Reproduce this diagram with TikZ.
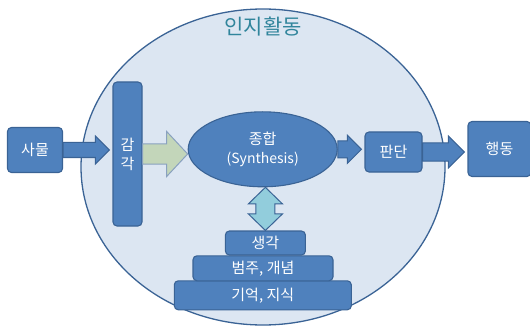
\documentclass[tikz,border=0pt]{standalone}
\usepackage{fontspec}
\setmainfont{Noto Sans CJK KR}
\usetikzlibrary{shapes.geometric,calc}
\definecolor{boxblue}{HTML}{4F81BD}
\definecolor{boxedge}{HTML}{3A6395}
\definecolor{cogfill}{HTML}{DCE6F2}
\definecolor{titleteal}{HTML}{31859C}
\definecolor{sensegreen}{HTML}{C3D6BA}
\definecolor{linkcyan}{HTML}{92CDDC}
\begin{document}
\begin{tikzpicture}[x=1pt,y=-1pt,
  box/.style={draw=boxedge,fill=boxblue,line width=1.1pt,rounded corners=4pt,
    text=white,inner sep=0pt,align=center,font=\fontsize{15}{19}\selectfont},
  fatarrow/.style args={#1/#2/#3}{to path={let \p1=(\tikztostart),\p2=(\tikztotarget) in
    (\x1,\y1+#1pt) -- (\x2-#3pt,\y1+#1pt) -- (\x2-#3pt,\y1+#2pt) -- (\x2,\y1)
    -- (\x2-#3pt,\y1-#2pt) -- (\x2-#3pt,\y1-#1pt) -- (\x1,\y1-#1pt) -- cycle}},
  dblarrow/.style args={#1/#2/#3}{to path={let \p1=(\tikztostart),\p2=(\tikztotarget) in
    (\x2,\y1) -- (\x2+#2pt,\y1-#3pt) -- (\x2+#1pt,\y1-#3pt) -- (\x2+#1pt,\y2+#3pt)
    -- (\x2+#2pt,\y2+#3pt) -- (\x2,\y2) -- (\x2-#2pt,\y2+#3pt) -- (\x2-#1pt,\y2+#3pt)
    -- (\x2-#1pt,\y1-#3pt) -- (\x2-#2pt,\y1-#3pt) -- cycle}},
  link/.style={draw=boxedge,line width=1pt,line join=miter}]
\useasboundingbox (0,0) rectangle (530,326);
% cognitive activity
\draw[draw=boxedge,fill=cogfill,line width=1.3pt] (263,167) ellipse [x radius=182, y radius=158];
\node[text=titleteal,font=\fontsize{21}{23}\selectfont] (title) at (263,27) {인지활동};
% nodes
\node[box,minimum width=55pt,minimum height=45pt] (thing) at (35,150) {사물};
\node[box,minimum width=29pt,minimum height=144pt] (sense) at (127.5,154) {감\\각};
\node[box,ellipse,sharp corners,minimum width=149pt,minimum height=75pt] (syn) at (262.7,149.3)
  {종합\\{\fontsize{14}{19}\selectfont(Synthesis)}};
\node[box,minimum width=57pt,minimum height=40pt] (judge) at (393.5,152) {판단};
\node[box,minimum width=63pt,minimum height=55pt] (act) at (499.5,149) {행동};
\node[box,minimum width=177pt,minimum height=29pt] (memory) at (262.8,295.3) {기억, 지식};
\node[box,minimum width=140pt,minimum height=25pt] (concept) at (263,268.3) {범주, 개념};
\node[box,minimum width=80pt,minimum height=24pt] (think) at (265.4,243) {생각};
% arrows
\draw[link,fill=boxblue,fatarrow=7.5/14/14] (thing.east) to ([xshift=-3pt]sense.west);
\draw[link,draw=boxedge!60,fill=sensegreen,fatarrow=10/22.5/21] (sense.east) to (syn.west);
\draw[link,fill=boxblue,fatarrow=8.5/14/14] (syn.east) to ([xshift=-3pt]judge.west);
\draw[link,fill=boxblue,fatarrow=9/16/16] (judge.east) to ([xshift=-3pt]act.west);
\draw[link,fill=linkcyan,dblarrow=9.5/17/16.5] (syn.south) to (think.north);
\end{tikzpicture}
\end{document}
